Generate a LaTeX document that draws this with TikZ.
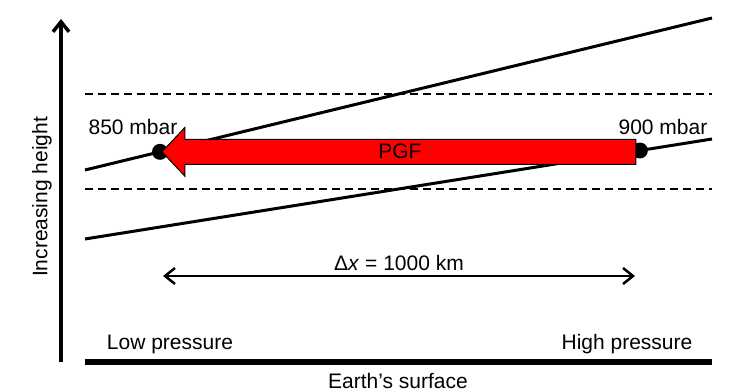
\documentclass[tikz,border=0pt]{standalone}
\usepackage{fontspec}
\setmainfont{Liberation Sans}
\usetikzlibrary{calc}
\usetikzlibrary{arrows.meta}
\tikzset{>={Straight Barb[length=5pt,width=8pt]}}
\tikzstyle{lbl} = [draw=none, inner sep=0, font=\fontsize{10.5}{12}\selectfont]
\tikzstyle{isobar} = [-, line width=1.5pt]
\tikzstyle{level} = [-, line width=0.75pt, dash pattern=on 4pt off 2.5pt]
\tikzstyle{dot} = [circle, fill=black, inner sep=0, minimum size=8pt]
\tikzstyle{pgf} = [fill=red, draw=black, line width=0.5pt]

\begin{document}
\begin{tikzpicture}[x=0.5pt, y=-0.5pt]
\useasboundingbox (0, 0) rectangle (756, 391);
% axis and ground
\coordinate (O) at (61, 362);
\coordinate (T) at (61, 19);
\draw [->, line width=1.75pt] (O) to (T);
\coordinate (gL) at (85, 362);
\coordinate (gR) at (712, 362);
\draw [line width=3pt] (gL) to (gR);
% levels
\coordinate (h1L) at (85, 94);
\coordinate (h1R) at (712, 94);
\coordinate (h2L) at (85, 189);
\coordinate (h2R) at (712, 189);
\draw [level] (h1L) to (h1R);
\draw [level] (h2L) to (h2R);
% isobars
\coordinate (a1) at (85, 170);
\coordinate (a2) at (712, 18);
\coordinate (b1) at (85, 239);
\coordinate (b2) at (712, 139);
\draw [isobar] (a1) to (a2);
\draw [isobar] (b1) to (b2);
\node [dot] (p850) at ($(a1)!0.1196!(a2)$) {};
\node [dot] (p900) at ($(b1)!0.885!(b2)$) {};
% pressure gradient force
\filldraw [pgf] ($(p850)+(2,0)$) -- ++(23,-24.5) -- ++(0,12) -- ++(451,0)
  -- ++(0,25) -- ++(-451,0) -- ++(0,12) -- cycle;
\node [lbl] (pgfl) at ($(p850)!0.5!(p900)$) {PGF};
\node [lbl] (l850) at (133, 127) {850 mbar};
\node [lbl] (l900) at (663, 127) {900 mbar};
% distance
\coordinate (dL) at (163, 276);
\coordinate (dR) at (635, 276);
\draw [<->, line width=1.25pt] (dL) to node[lbl, above=2pt] {Δ\textit{x} = 1000 km} (dR);
\node [lbl] (low) at (170, 344) {Low pressure};
\node [lbl] (high) at (627, 344) {High pressure};
\node [lbl] (earth) at (398, 381) {Earth’s surface};
\node [lbl, rotate=90] (height) at (42, 197) {Increasing height};
\end{tikzpicture}
\end{document}
